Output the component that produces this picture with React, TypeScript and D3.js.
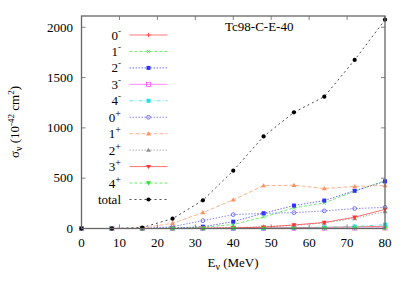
import React from 'react';
import * as d3 from 'd3';

// neutrino energies (MeV)
const energies = [0, 8, 16, 24, 32, 40, 48, 56, 64, 72, 80];

// cross sections per multipole, 10^-42 cm^2
const s0m = [0, 0, 0, 0, 1, 3, 5, 8, 12, 16, 22];
const s1m = [0, 0, 0, 3, 12, 40, 115, 205, 255, 370, 475];
const s2m = [0, 0, 0, 5, 18, 68, 152, 228, 278, 375, 468];
const s3m = [0, 0, 0, 0, 0, 1, 1, 2, 3, 4, 5];
const s4m = [0, 0, 0, 0, 0, 1, 3, 6, 12, 20, 38];
const s0p = [0, 0, 0, 18, 78, 138, 150, 158, 175, 198, 210];
const s1p = [0, 0, 4, 52, 158, 285, 426, 430, 397, 418, 428];
const s2p = [0, 0, 0, 2, 5, 10, 18, 30, 55, 100, 168];
const s3p = [0, 0, 0, 0, 2, 5, 14, 35, 60, 112, 190];
const s4p = [0, 0, 0, 0, 0, 0, 1, 1, 2, 2, 3];
const total = [0, 0, 10, 98, 280, 575, 915, 1155, 1310, 1675, 2075];

const xTicks = [0, 10, 20, 30, 40, 50, 60, 70, 80];
const yTicks = [0, 500, 1000, 1500, 2000];

type Series = {
  num: string;
  sup: string;
  values: number[];
  color: string;
  dash: string;
  marker: string;
};

const series: Series[] = [
  { num: '0', sup: '-', values: s0m, color: '#ff4040', dash: '', marker: 'plus' },
  { num: '1', sup: '-', values: s1m, color: '#30e030', dash: '3,2', marker: 'x' },
  { num: '2', sup: '-', values: s2m, color: '#3030ff', dash: '1.5,1.5', marker: 'fsquare' },
  { num: '3', sup: '-', values: s3m, color: '#ff50ff', dash: '', marker: 'osquare' },
  { num: '4', sup: '-', values: s4m, color: '#20e0e0', dash: '4,2,1,2', marker: 'fsquare' },
  { num: '0', sup: '+', values: s0p, color: '#5050ff', dash: '1.5,1.5', marker: 'ocircle' },
  { num: '1', sup: '+', values: s1p, color: '#ff9060', dash: '4,2', marker: 'tri' },
  { num: '2', sup: '+', values: s2p, color: '#909090', dash: '1.5,1.5', marker: 'tri' },
  { num: '3', sup: '+', values: s3p, color: '#ff3030', dash: '', marker: 'dtri' },
  { num: '4', sup: '+', values: s4p, color: '#30e030', dash: '3,2', marker: 'dtri' },
  { num: 'total', sup: '', values: total, color: '#000000', dash: '2,3', marker: 'circle' },
];

const marker = (type: string, x: number, y: number, c: string, key: string) => {
  const r = 2.2;
  switch (type) {
    case 'plus':
      return <path key={key} d={`M${x - r},${y}H${x + r}M${x},${y - r}V${y + r}`} stroke={c} strokeWidth={0.8} fill="none" />;
    case 'x':
      return <path key={key} d={`M${x - 1.7},${y - 1.7}L${x + 1.7},${y + 1.7}M${x - 1.7},${y + 1.7}L${x + 1.7},${y - 1.7}`} stroke={c} strokeWidth={0.8} fill="none" />;
    case 'fsquare':
      return <rect key={key} x={x - 2} y={y - 2} width={4} height={4} fill={c} />;
    case 'osquare':
      return <rect key={key} x={x - 2} y={y - 2} width={4} height={4} fill="none" stroke={c} strokeWidth={0.8} />;
    case 'ocircle':
      return <circle key={key} cx={x} cy={y} r={1.9} fill="none" stroke={c} strokeWidth={0.8} />;
    case 'tri':
      return <path key={key} d={`M${x},${y - 2.5}L${x + 2.5},${y + 1.7}L${x - 2.5},${y + 1.7}Z`} fill={c} />;
    case 'dtri':
      return <path key={key} d={`M${x},${y + 2.5}L${x + 2.5},${y - 1.7}L${x - 2.5},${y - 1.7}Z`} fill={c} />;
    default:
      return <circle key={key} cx={x} cy={y} r={2.1} fill={c} />;
  }
};

export default function App() {
  const width = 409;
  const height = 286;
  const left = 81.5;
  const right = 385;
  const top = 16;
  const bottom = 228.5;

  const x = d3.scaleLinear().domain([0, 80]).range([left, right]);
  const y = d3.scaleLinear().domain([0, 2112]).range([bottom, top]);

  const line = d3
    .line<number>()
    .x((_, i) => x(energies[i]))
    .y(d => y(d));

  const font = 'Liberation Serif';
  const frame = '#666';

  return (
    <svg
      width={width}
      height={height}
      style={{ position: 'absolute', left: 0, top: 0, background: '#fff' }}
      fontFamily={font}
    >
      {/* ticks, mirrored */}
      {xTicks.map(t => (
        <g key={'xt' + t}>
          <line x1={x(t)} x2={x(t)} y1={bottom} y2={bottom - 4} stroke={frame} strokeWidth={0.8} />
          <line x1={x(t)} x2={x(t)} y1={top} y2={top + 4} stroke={frame} strokeWidth={0.8} />
          <text x={x(t)} y={247} textAnchor="middle" fontSize={13}>
            {t}
          </text>
        </g>
      ))}
      {yTicks.map(t => (
        <g key={'yt' + t}>
          <line x1={left} x2={left + 4} y1={y(t)} y2={y(t)} stroke={frame} strokeWidth={0.8} />
          <line x1={right} x2={right - 4} y1={y(t)} y2={y(t)} stroke={frame} strokeWidth={0.8} />
          <text x={73} y={y(t) + 4.3} textAnchor="end" fontSize={13}>
            {t}
          </text>
        </g>
      ))}

      {/* data */}
      {series.map((s, si) => (
        <g key={'s' + si}>
          <path d={line(s.values) || ''} fill="none" stroke={s.color} strokeWidth={0.7} strokeDasharray={s.dash} />
          {s.values.map((v, i) => marker(s.marker, x(energies[i]), y(v), s.color, 'm' + si + '-' + i))}
        </g>
      ))}

      {/* frame */}
      <rect x={left} y={top} width={right - left} height={bottom - top} fill="none" stroke={frame} strokeWidth={1.3} />

      {/* legend */}
      {series.map((s, i) => {
        const ly = 35 + i * 16.45;
        return (
          <g key={'lg' + i}>
            <text x={121} y={ly + 4.5} textAnchor="end" fontSize={13}>
              {s.num}
              {s.sup && (
                <tspan fontSize={s.sup === '+' ? 10 : 9} dy={s.sup === '+' ? -5 : -6}>
                  {s.sup === '-' ? '-' : '+'}
                </tspan>
              )}
            </text>
            <line x1={129.5} x2={167.5} y1={ly} y2={ly} stroke={s.color} strokeWidth={0.7} strokeDasharray={s.dash} />
            {marker(s.marker, 148.5, ly, s.color, 'lm' + i)}
          </g>
        );
      })}

      <text x={225} y={31} fontSize={13}>
        Tc98-C-E-40
      </text>

      {/* axis titles */}
      <text x={233} y={267} textAnchor="middle" fontSize={13}>
        E
        <tspan fontSize={10} dy={3}>ν</tspan>
        <tspan dy={-3}> (MeV)</tspan>
      </text>
      <text transform="translate(19,122) rotate(-90)" textAnchor="middle" fontSize={13}>
        σ
        <tspan fontSize={10} dy={3}>ν</tspan>
        <tspan dy={-3}> (10</tspan>
        <tspan fontSize={9} dy={-5}>-42</tspan>
        <tspan dy={5}> cm</tspan>
        <tspan fontSize={9} dy={-5}>2</tspan>
        <tspan dy={5}>)</tspan>
      </text>
    </svg>
  );
}
